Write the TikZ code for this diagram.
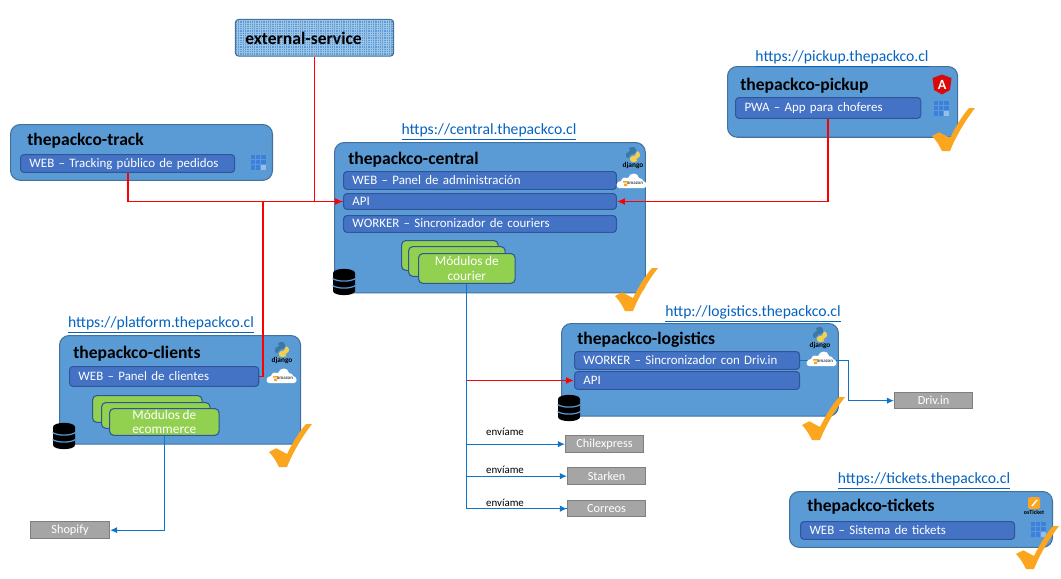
\documentclass[tikz,border=0pt]{standalone}
\usepackage{fontspec}
\setmainfont[WordSpace=0.8]{Carlito}
\usetikzlibrary{patterns.meta,arrows.meta}
\definecolor{boxf}{HTML}{5B9BD5}
\definecolor{boxd}{HTML}{41719C}
\definecolor{barf}{HTML}{4472C4}
\definecolor{bard}{HTML}{2F5597}
\definecolor{modf}{HTML}{92D050}
\definecolor{grf}{HTML}{A5A5A5}
\definecolor{grd}{HTML}{7F7F7F}
\definecolor{lnk}{HTML}{0563C1}
\definecolor{okc}{HTML}{FBA61E}
\definecolor{bluel}{HTML}{0F75C9}
\definecolor{gridc}{HTML}{3C7FDC}
\definecolor{pyb}{HTML}{3B78A8}
\definecolor{pyy}{HTML}{F5D04C}
\def\uu{0.5669pt}
\newcommand{\fs}[1]{\fontsize{#1}{#1}\selectfont}
\tikzset{
  x=0.02cm,y=-0.02cm,
  sysbox/.style={draw=boxd,fill=boxf,line width=0.6pt,rounded corners=5.5pt,inner sep=0pt},
  barbox/.style={draw=bard,fill=barf,line width=0.6pt,rounded corners=2pt,text=white,font=\fs{7.35}},
  modbox/.style={draw=bard,fill=modf,line width=0.6pt,rounded corners=2.5pt,inner sep=0pt},
  svcbox/.style={draw=grd,fill=grf,line width=0.8pt,inner sep=0pt,text=white,font=\fs{7}},
  titletxt/.style={font=\bfseries\fs{10},text=black,anchor=west,inner sep=0pt,yshift=-0.9pt},
  urltxt/.style={font=\fs{8.9},text=lnk,inner sep=0pt,yshift=-1pt},
  redln/.style={draw=red,line width=1.05pt},
  blueln/.style={draw=bluel,line width=0.7pt},
  redar/.style={redln,-{Latex[length=4.5pt,width=4pt]}},
  bluear/.style={blueln,-{Latex[length=4pt,width=3.6pt]}},
  smalltxt/.style={font=\fs{6.2},text=black,inner sep=0pt},
  pics/okmark/.style={code={
    \fill[okc] (0,28) -- (7.3,24.3) -- (18,30) .. controls (24,18) and (30,8) .. (37,0) -- (43,0)
      .. controls (33,13) and (24,28) .. (18,43) -- (10,43) .. controls (7,37) and (4,32) .. cycle;}},
  pics/pyicon/.style={code={
    \fill[pyb,rounded corners=1.5pt] (-7,1) -- (-7,-3) -- (-2,-3) -- (-2,-4) -- (-4,-4) -- (-4,-8) -- (3,-8) -- (3,-1) -- (-3,-1) -- (-3,3) -- (-7,3) -- cycle;
    \fill[pyy,rounded corners=1.5pt] (7,-3) -- (7,3) -- (2,3) -- (2,4) -- (4,4) -- (4,7) -- (-3,7) -- (-3,1) -- (3,1) -- (3,-4) -- cycle;
    \node[font=\bfseries\fs{4.2},text=black,inner sep=0pt] (-t) at (0,11) {django};}},
  pics/awsicon/.style={code={
    \fill[white] (-13,7) .. controls (-17,7) and (-16,0) .. (-11,0) .. controls (-10,-4) and (-6,-4) .. (-4,-3)
      .. controls (-2,-9) and (6,-9) .. (7,-3) .. controls (10,-3) and (11,-1) .. (11,0) .. controls (15,0) and (16,7) .. (12,7) -- cycle;
    \fill[okc] (-9,0) rectangle (-4,1.6) (-8,2.5) rectangle (-5,5);
    \node[font=\bfseries\fs{2.8},text=black!70,inner sep=0pt] (-t) at (3,2) {amazon};}},
  pics/gridicon/.style={code={
    \foreach \i in {0,1,2}{\foreach \j in {0,1,2}{
      \fill[gridc] (-7.5+\i*5.4,-7.5+\j*5.4) rectangle ++(4.4,4.4);}}
    \fill[boxf!40!white!70!gridc] (3.3,3.3) rectangle ++(4.4,4.4);}},
  pics/dbicon/.style={code={
    \fill[black] (-11,-9) .. controls (-11,-14.5) and (11,-14.5) .. (11,-9) -- (11,9)
      .. controls (11,14.5) and (-11,14.5) .. (-11,9) -- cycle;
    \foreach \yy in {-3.5,3.5}{
      \draw[boxf,line width=0.7pt] (-11.5,\yy) .. controls (-6,\yy+3.5) and (6,\yy+3.5) .. (11.5,\yy);}
    }},
  pics/angicon/.style={code={
    \fill[red!85!black!95!pink] (0,-9.5) -- (9.5,-6) -- (8,6) -- (0,10.5) -- (-8,6) -- (-9.5,-6) -- cycle;
    \node[font=\bfseries\fs{8},text=white,inner sep=0pt] (-t) at (0,0.5) {A};}},
  pics/osticon/.style={code={
    \fill[okc,rounded corners=1pt] (-6,-7) rectangle (6,5);
    \draw[white,line width=0.8pt] (-2,2) -- (3,-4);
    \node[font=\bfseries\fs{3.4},text=black,inner sep=0pt] (-t) at (0,8.8) {osTicket};}},
}
% name x1 y1 x2 y2 style text
\newcommand{\bx}[7]{%
  \pgfmathsetlengthmacro{\bw}{(#4-#2)*\uu}%
  \pgfmathsetlengthmacro{\bh}{(#5-#3)*\uu}%
  \node[#6,minimum width=\bw,minimum height=\bh,anchor=north west] (#1) at (#2,#3) {#7};}
\newcommand{\br}[6]{%
  \pgfmathsetlengthmacro{\bw}{(#4-#2-18)*\uu}%
  \pgfmathsetlengthmacro{\bh}{(#5-#3)*\uu}%
  \pgfmathsetlengthmacro{\bp}{9*\uu}%
  \node[barbox,text width=\bw,inner xsep=\bp,inner ysep=0pt,minimum height=\bh,align=left,anchor=north west] (#1) at (#2,#3) {\strut\smash{\raisebox{-0.8pt}{#6}}};}
\begin{document}
\begin{tikzpicture}
\useasboundingbox (0,0) rectangle (1061,578);
\fill[white] (0,0) rectangle (1061,578);

% external-service
\bx{ext}{235}{19}{394}{56}{sysbox,rounded corners=2pt,preaction={fill=boxf},preaction={pattern={Lines[angle=0,distance=1.3pt,line width=0.4pt]},pattern color=white!40!boxf},pattern={Lines[angle=90,distance=1.3pt,line width=0.4pt]},pattern color=white!40!boxf}{}
\node[titletxt] (extt) at (245,37) {external-service};

% central
\bx{central}{334}{142}{646}{293}{sysbox}{}
\node[titletxt] (centralt) at (348,158) {thepackco-central};
\node[urltxt] (centralu) at (489,130) {\underline{https://central.thepackco.cl}};
\br{cweb}{343}{171}{617}{189}{WEB – Panel de administración}
\br{capi}{343}{193}{617}{209}{API}
\br{cwork}{343}{215}{617}{232}{WORKER – Sincronizador de couriers}
\bx{cm1}{401}{240}{498}{270}{modbox}{}
\bx{cm2}{408}{246}{505}{276}{modbox}{}
\bx{cm3}{418}{253}{515}{283}{modbox,text=white,font=\fs{7.6},align=center}{Módulos de\\[1.2pt]courier}
\pic (p1) at (633,155) {pyicon};
\pic (a1) at (632,181) {awsicon};
\pic (d1) at (344,282) {dbicon};
\pic (k1) at (615,268) {okmark};

% track
\bx{track}{10}{124}{273}{180}{sysbox}{}
\node[titletxt] (trackt) at (27,139) {thepackco-track};
\br{tweb}{20}{154}{235}{172}{WEB – Tracking público de pedidos}
\pic (g1) at (258,162) {gridicon};

% pickup
\bx{pickup}{727}{66}{958}{137}{sysbox}{}
\node[titletxt] (pickupt) at (740,84) {thepackco-pickup};
\node[urltxt] (pickupu) at (842,57) {\underline{https://pickup.thepackco.cl}};
\br{pbar}{735}{97}{921}{118}{PWA – App para choferes}
\pic (n1) at (942,84) {angicon};
\pic (g2) at (941,108) {gridicon};
\pic (k2) at (932,108) {okmark};

% logistics
\bx{logi}{561}{323}{839}{416}{sysbox}{}
\node[titletxt] (logit) at (577,338) {thepackco-logistics};
\node[urltxt] (logiu) at (753,312) {\underline{http://logistics.thepackco.cl}};
\br{lwork}{574}{351}{800}{369}{WORKER – Sincronizador con Driv.in}
\br{lapi}{574}{371}{800}{389}{API}
\pic (p2) at (820,335) {pyicon};
\pic (d2) at (569,408) {dbicon};

% clients
\bx{clients}{59}{335}{301}{444}{sysbox}{}
\node[titletxt] (clientst) at (73,352) {thepackco-clients};
\node[urltxt] (clientsu) at (161,323) {\underline{https://platform.thepackco.cl}};
\br{clweb}{69}{366}{259}{386}{WEB – Panel de clientes}
\bx{em1}{92}{395}{202}{422}{modbox}{}
\bx{em2}{101}{402}{210}{428}{modbox}{}
\bx{em3}{109}{408}{219}{435}{modbox,text=white,font=\fs{7.6},align=center}{Módulos de\\[0.6pt]ecommerce}
\pic (p3) at (282,350) {pyicon};
\pic (a3) at (282,376) {awsicon};
\pic (d3) at (64,436) {dbicon};
\pic (k3) at (269,424) {okmark};

% tickets
\bx{tick}{789}{491}{1053}{547}{sysbox}{}
\node[titletxt] (tickt) at (807,505) {thepackco-tickets};
\node[urltxt] (ticku) at (924,479) {\underline{https://tickets.thepackco.cl}};
\br{tkweb}{800}{521}{1015}{539}{WEB – Sistema de tickets}
\pic (o1) at (1034,504) {osticon};
\pic (g3) at (1038,529) {gridicon};

% grey services
\bx{driv}{894}{392}{972}{408}{svcbox}{Driv.in}
\bx{chil}{565}{435}{643}{452}{svcbox}{Chilexpress}
\bx{star}{567}{467}{645}{484}{svcbox}{Starken}
\bx{corr}{567}{500}{645}{516}{svcbox}{Correos}
\bx{shop}{30}{521}{109}{538}{svcbox}{Shopify}

% connectors
\coordinate (jcl) at (263,201);
\draw[redar] (tweb.south) |- (capi.west);
\draw[redln] (ext.south) |- (capi.west);
\draw[redln] (clweb.east) -| (jcl);
\draw[redar] (pbar.south) |- (capi.east);
\draw[blueln] (cm3.south) |- (corr.west);
\draw[bluear] (cm3.south |- chil.west) -- (chil.west);
\draw[bluear] (cm3.south |- star.west) -- (star.west);
\draw[bluear] (cm3.south |- corr.west) -- (corr.west);
\draw[redar] (cm3.south |- lapi.west) -- (lapi.west);
\draw[bluear] (em3.south) |- (shop.east);
\draw[bluear] (lwork.east) -- ++(48,0) |- (driv.west);
\pic (a2) at (822,359) {awsicon};
\pic (k4) at (802,397) {okmark};
\pic (k5) at (1016,526) {okmark};

\node[smalltxt] (s1) at (505,432) {envíame};
\node[smalltxt] (s2) at (505,470) {envíame};
\node[smalltxt] (s3) at (505,503) {envíame};
\end{tikzpicture}
\end{document}
